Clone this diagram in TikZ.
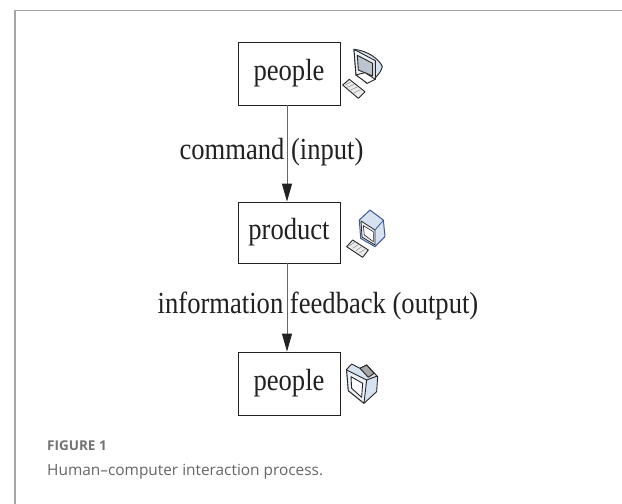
\documentclass[tikz,border=0pt]{standalone}
\usepackage{fontspec}
\setmainfont{Liberation Serif}
\newfontfamily\capfont{Open Sans}
\usetikzlibrary{arrows.meta}
\definecolor{ink}{gray}{0.13}
\definecolor{iconblue}{RGB}{214,226,240}
\definecolor{iconpale}{RGB}{236,241,248}
\definecolor{iconedge}{RGB}{60,90,150}
\newcommand{\tall}[1]{\scalebox{1}[1.15]{#1}}
\tikzset{
 box/.style={draw=ink,line width=0.8pt,inner sep=0pt,anchor=center,minimum width=102pt,text=ink,font=\fontsize{26.6}{27}\selectfont},
 lbl/.style={inner sep=0pt,anchor=center,text=ink,font=\fontsize{26.6}{27}\selectfont},
 flow/.style={draw=black!60,line width=0.8pt,-{Triangle[length=18pt,width=10pt,color=ink]}},
 ol/.style={draw=black!85,line width=0.9pt,line join=round},
 captext/.style={inner sep=0pt,anchor=west}
}
\begin{document}
\begin{tikzpicture}[x=1pt,y=-1pt]
\useasboundingbox (0,0) rectangle (622,504);
\fill[white] (0,0) rectangle (622,504);
\draw[black!35,line width=1.2pt] (622,10.5) -- (15,10.5) -- (15,504);
\node[box,minimum height=63pt] (p1) at (289,73.5) {\tall{people}};
\node[box,minimum height=61pt] (pr) at (289,232.5) {\tall{product}};
\node[box,minimum height=63pt] (p2) at (289,383.5) {\tall{people}};
\coordinate (ax) at (287,0);
\draw[flow] (p1.south -| ax) -- (pr.north -| ax);
\draw[flow] (pr.south -| ax) -- (p2.north -| ax);
\node[lbl] (l1) at (271.5,152) {\tall{command (input)}};
\node[lbl] (l2) at (318,306) {\tall{information feedback (output)}};
% top computer
\begin{scope}[shift={(330,20)},x=0.3333pt,y=-0.3333pt]
\filldraw[ol,fill=iconblue] (72,88) .. controls (115,92) and (150,120) .. (157,140) .. controls (150,165) and (130,180) .. (110,190) -- (100,180) -- (78,165) -- cycle;
\filldraw[ol,fill=iconpale] (72,88) -- (78,165) -- (136,178) -- (136,122) -- cycle;
\filldraw[ol,fill=iconblue!70!gray] (82,106) -- (128,130) -- (128,168) -- (85,150) -- cycle;
\filldraw[ol,fill=white] (78,165) -- (112,190) -- (136,178) -- (105,158) -- cycle;
\filldraw[ol,fill=black!8] (38,195) -- (58,178) -- (105,215) -- (85,235) -- cycle;
\draw[black!45,line width=.5pt] (46,195) -- (62,186) (52,202) -- (72,193) (62,210) -- (82,201) (72,218) -- (92,209);
\end{scope}
% middle computer
\begin{scope}[shift={(330,195)},x=0.3333pt,y=-0.3333pt]
\filldraw[draw=iconedge,line width=1pt,line join=round,fill=iconblue] (120,45) -- (88,75) -- (92,130) -- (135,155) -- (165,125) -- (160,75) -- cycle;
\filldraw[draw=black!85,line width=.8pt,line join=round,fill=iconpale] (93,78) -- (135,105) -- (135,150) -- (96,126) -- cycle;
\filldraw[draw=black!85,line width=.6pt,fill=white] (100,92) -- (130,110) -- (130,140) -- (103,120) -- cycle;
\draw[iconedge,line width=.8pt] (135,105) -- (160,76);
\filldraw[ol,fill=black!8] (50,155) -- (68,135) -- (115,165) -- (98,187) -- cycle;
\draw[black!45,line width=.5pt] (58,152) -- (74,142) (68,160) -- (84,149) (78,167) -- (94,156) (88,174) -- (104,163);
\end{scope}
% bottom computer
\begin{scope}[shift={(220,320)},x=0.3333pt,y=-0.3333pt]
\filldraw[ol,fill=iconblue] (380,148) -- (395,132) -- (420,145) -- (440,135) -- (473,170) -- (470,215) -- (432,250) -- (385,212) -- cycle;
\filldraw[ol,fill=black!35] (420,145) -- (440,135) -- (462,160) -- (445,172) -- cycle;
\filldraw[ol,fill=iconpale] (380,150) -- (440,180) -- (432,250) -- (385,212) -- cycle;
\filldraw[ol,fill=white] (393,170) -- (428,190) -- (425,232) -- (395,205) -- cycle;
\draw[ol] (440,180) -- (472,168);
\end{scope}
\node[captext,font=\capfont\bfseries\fontsize{13.5}{14}\selectfont,text=black!55] (f) at (47,446) {FIGURE 1};
\node[captext,font=\capfont\fontsize{15.4}{16}\selectfont,text=black!60] (c) at (47,472) {Human–computer interaction process.};
\end{tikzpicture}
\end{document}
